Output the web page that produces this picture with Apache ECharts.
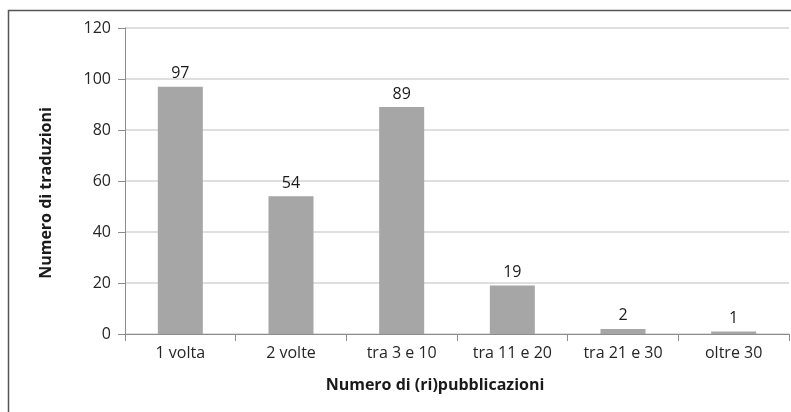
<!DOCTYPE html>
<html>
<head>
<meta charset="utf-8">
<script src="https://cdn.jsdelivr.net/npm/echarts@6/dist/echarts.min.js"></script>
<style>
  html, body { margin: 0; padding: 0; background: #fff; }
  #chart { width: 791px; height: 412px; }
</style>
</head>
<body>
<div id="chart"></div>
<script>
// Number of translations by how many times they were (re)published
const categories = ['1 volta', '2 volte', 'tra 3 e 10', 'tra 11 e 20', 'tra 21 e 30', 'oltre 30'];
const translations = [97, 54, 89, 19, 2, 1];
const yTicks = { min: 0, max: 120, interval: 20 };

const FONT = '"Open Sans", Lato, sans-serif';
const chart = echarts.init(document.getElementById('chart'));

chart.setOption({
  animation: false,
  backgroundColor: '#fff',
  grid: { left: 125, right: 2, top: 28, bottom: 78, containLabel: false },
  graphic: [
    {
      type: 'rect',
      shape: { x: 8.5, y: 10.5, width: 800, height: 420 },
      style: { fill: 'none', stroke: '#555', lineWidth: 1.5 }
    },
    {
      type: 'text',
      x: 435, y: 385,
      style: {
        text: 'Numero di (ri)pubblicazioni',
        font: 'bold 16px ' + FONT,
        fill: '#1a1a1a',
        align: 'center', verticalAlign: 'middle'
      }
    },
    {
      type: 'text',
      x: 46, y: 193,
      rotation: Math.PI / 2,
      style: {
        text: 'Numero di traduzioni',
        font: 'bold 16px ' + FONT,
        fill: '#1a1a1a',
        align: 'center', verticalAlign: 'middle'
      }
    }
  ],
  xAxis: {
    type: 'category',
    data: categories,
    axisLine: { lineStyle: { color: '#8c8c8c' } },
    axisTick: { show: true, length: 7, lineStyle: { color: '#8c8c8c' } },
    axisLabel: { color: '#262626', fontFamily: FONT, fontSize: 16, margin: 11 }
  },
  yAxis: {
    type: 'value',
    min: yTicks.min, max: yTicks.max, interval: yTicks.interval,
    axisLine: { show: true, lineStyle: { color: '#8c8c8c' } },
    axisTick: { show: true, length: 7, lineStyle: { color: '#8c8c8c' } },
    axisLabel: { color: '#262626', fontFamily: FONT, fontSize: 16, margin: 14 },
    splitLine: { lineStyle: { color: '#d4d4d4', width: 1.5 } }
  },
  series: [{
    type: 'bar',
    data: translations,
    barWidth: 45,
    itemStyle: { color: '#a6a6a6' },
    label: {
      show: true, position: 'top', distance: 5,
      color: '#1a1a1a', fontFamily: FONT, fontSize: 16
    }
  }]
});
</script>
</body>
</html>
